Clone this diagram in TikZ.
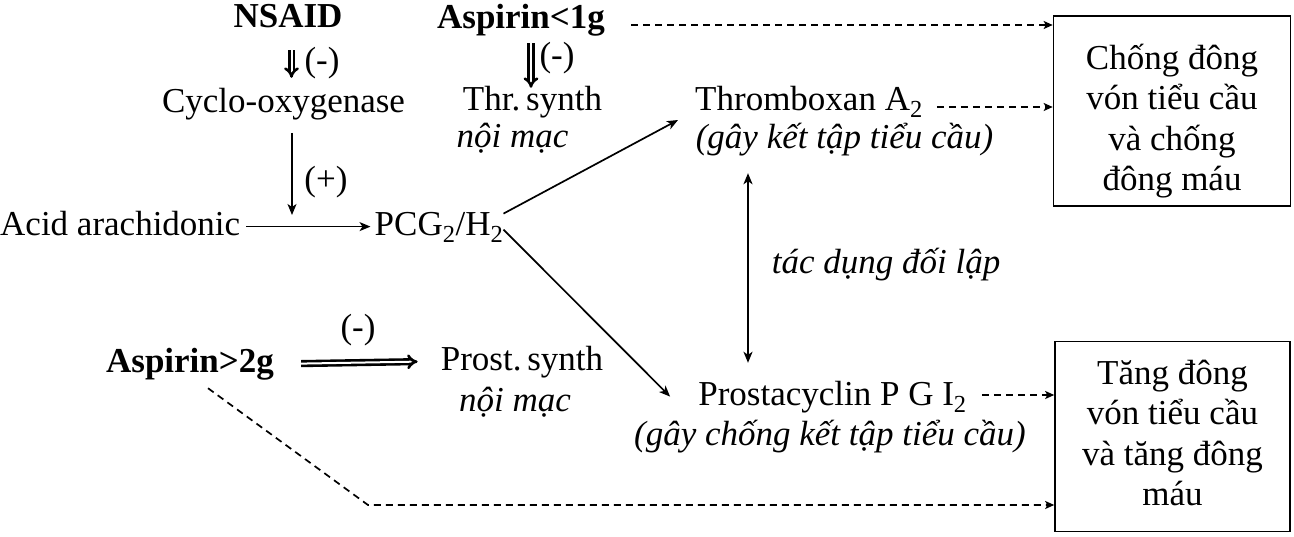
\documentclass[tikz,border=0pt]{standalone}
\usepackage{fontspec}
\setmainfont{Liberation Serif}
\usetikzlibrary{arrows.meta}
\newcommand\myfs{\fontsize{35}{40.5}\selectfont}
\begin{document}
\begin{tikzpicture}[x=1pt,y=-1pt,
  txt/.style={inner sep=0pt, text height=24.5pt, text depth=7.7pt, font=\myfs},
  bftxt/.style={txt, font=\myfs\bfseries},
  ittxt/.style={txt, font=\myfs\itshape},
  boxnode/.style={draw, line width=1.6pt, inner sep=0pt, align=center, font=\myfs},
  arr/.style={line width=1.7pt, -{Stealth[length=11pt,width=9pt,inset=3pt]}},
  biarr/.style={line width=1.7pt, {Stealth[length=11pt,width=9pt,inset=3pt]}-{Stealth[length=11pt,width=9pt,inset=3pt]}},
  dasharr/.style={line width=1.7pt, dash pattern=on 7pt off 5pt, -{Stealth[length=9pt,width=8pt,inset=2pt]}},
  dblarr/.style={double, double distance=2pt, line width=2.6pt, -{Implies}}
]
\useasboundingbox (0,0) rectangle (1294,536);
\fill[white] (0,0) rectangle (1294,536);

% text nodes
\node[bftxt, anchor=base] (nsaid) at (288,27) {NSAID};
\node[txt] (minus1) at (322,63) {(-)};
\node[txt, anchor=base] (cox) at (283.5,112) {Cyclo-oxygenase};
\node[bftxt, anchor=base] (asp1) at (521,28) {Aspirin<1g};
\node[txt] (minus2) at (557,58) {(-)};
\node[txt, anchor=base] (thr) at (532.5,110) {Thr.\,synth};
\node[ittxt, anchor=base] (noimac1) at (512.5,147) {nội mạc};
\node[txt, anchor=base] (txa) at (809,110) {Thromboxan A\textsubscript{2}};
\node[ittxt, anchor=base] (txadesc) at (844.5,148) {(gây kết tập tiểu cầu)};
\node[txt] (plus) at (326,182) {(+)};
\node[txt, anchor=base west] (acid) at (0,235) {Acid arachidonic};
\node[txt, anchor=base] (pcg) at (439,235) {PCG\textsubscript{2}/H\textsubscript{2}};
\node[ittxt, anchor=base] (tdl) at (886,273) {tác dụng đối lập};
\node[txt] (minus3) at (358,330) {(-)};
\node[bftxt, anchor=base] (asp2) at (190,372) {Aspirin>2g};
\node[txt, anchor=base] (prost) at (522,370) {Prost.\,synth};
\node[ittxt, anchor=base] (noimac2) at (515,411) {nội mạc};
\node[txt, anchor=base] (pgi) at (832.5,405) {Prostacyclin P G I\textsubscript{2}};
\node[ittxt, anchor=base] (pgidesc) at (830,445) {(gây chống kết tập tiểu cầu)};

% boxes
\node[boxnode, minimum width=237pt, minimum height=190pt] (box1) at (1172,111)
  {\rule{0pt}{46pt}Chống đông\\vón tiểu cầu\\và chống\\đông máu};
\node[boxnode, minimum width=235pt, minimum height=190pt] (box2) at (1172.5,436.5)
  {Tăng đông\\vón tiểu cầu\\và tăng đông\\máu\vphantom{g}};

% connectors
\draw[dblarr] ([xshift=3.5pt,yshift=-15.3pt]nsaid.south) -- ([xshift=8pt,yshift=9.5pt]cox.north);
\draw[dblarr] ([xshift=10pt,yshift=-7.3pt]asp1.south) -- ([xshift=-1.5pt,yshift=-2.5pt]thr.north);
\coordinate (plusend) at (292,215);
\draw[arr] ([xshift=8.5pt,yshift=-13pt]cox.south) -- (plusend);
\draw[arr] ([xshift=6pt]acid.east) -- ([xshift=-4pt]pcg.west);
\draw[arr] ([yshift=13pt]pcg.east) -- ([xshift=-17pt,yshift=-18.4pt]txa.west);
\draw[arr] ([yshift=-3pt]pcg.east) -- ([xshift=-28pt]pgi.west);
\draw[biarr] ([xshift=-96.5pt,yshift=-17.3pt]txadesc.south) -- ([xshift=-84.5pt,yshift=17.5pt]pgi.north);
\draw[dblarr] ([xshift=27pt]asp2.east) -- ([xshift=-23pt]prost.west);

\draw[dasharr] ([xshift=26pt,yshift=-5.4pt]asp1.east) coordinate (d1) -- (d1 -| box1.west);
\draw[dasharr] ([xshift=14pt,yshift=-5.4pt]txa.east) coordinate (d2) -- (d2 -| box1.west);
\draw[dasharr] ([xshift=15pt,yshift=1.6pt]pgi.east) coordinate (d3) -- (d3 -| box2.west);
\coordinate (bend) at (368,505);
\draw[dasharr] ([xshift=18pt,yshift=-8.3pt]asp2.south) -- (bend) -- (bend -| box2.west);
\end{tikzpicture}
\end{document}
